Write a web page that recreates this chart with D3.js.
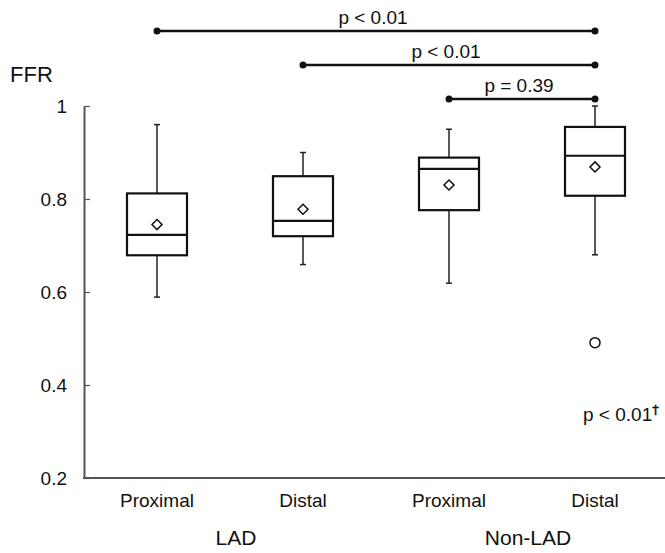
<!DOCTYPE html>
<html>
<head>
<meta charset="utf-8">
<script src="https://cdn.jsdelivr.net/npm/d3@7"></script>
<style>
  body { margin: 0; background: #fff; }
  text, tspan { font-family: "Liberation Sans", Arial, sans-serif; fill: #111; }
</style>
</head>
<body>
<div id="chart"></div>
<script>
// box plot data
var categories = ["LAD Proximal", "LAD Distal", "Non-LAD Proximal", "Non-LAD Distal"];
var catLabels = ["Proximal", "Distal", "Proximal", "Distal"];
var groups = ["LAD", "Non-LAD"];
var whiskerHigh = [0.96, 0.90, 0.95, 1.00];
var q3 = [0.812, 0.849, 0.889, 0.955];
var medians = [0.723, 0.753, 0.865, 0.893];
var q1 = [0.679, 0.720, 0.776, 0.807];
var whiskerLow = [0.589, 0.659, 0.619, 0.680];
var means = [0.745, 0.778, 0.830, 0.869];
var outliers = [{cat: 3, value: 0.491}];
var yTicks = [0.2, 0.4, 0.6, 0.8, 1];
// significance brackets: from category index to category index
var compFrom = [0, 1, 2];
var compTo = [3, 3, 3];
var compLabels = ["p < 0.01", "p < 0.01", "p = 0.39"];

var w = 665, h = 553;
var svg = d3.select("#chart").append("svg")
    .attr("width", w)
    .attr("height", h);

var x = d3.scaleBand()
    .domain(categories)
    .range([84, 668])
    .padding(0);

var y = d3.scaleLinear()
    .domain([0.2, 1])
    .range([478, 106]);

var boxW = 60;
var cx = function(i) { return x(categories[i]) + x.bandwidth() / 2; };

// y axis
var yAxis = d3.axisLeft(y)
    .tickValues(yTicks)
    .tickSizeInner(-6)
    .tickSizeOuter(0)
    .tickPadding(17)
    .tickFormat(function(d) { return d === 1 ? "1" : d3.format(".1f")(d); });

var gy = svg.append("g")
    .attr("transform", "translate(84,0)")
    .call(yAxis);
gy.select(".domain").attr("stroke", "#555").attr("stroke-width", 2);
gy.selectAll(".tick line").attr("stroke", "#555").attr("stroke-width", 1.2);
gy.selectAll(".tick text")
    .style("font-family", "Liberation Sans, Arial, sans-serif")
    .style("font-size", "19px")
    .attr("fill", "#111");

// x axis line
svg.append("line")
    .attr("x1", 83)
    .attr("x2", w)
    .attr("y1", y(0.2))
    .attr("y2", y(0.2))
    .attr("stroke", "#555")
    .attr("stroke-width", 2);

// category labels
svg.selectAll("text.cat")
    .data(catLabels)
    .enter()
    .append("text")
    .attr("class", "cat")
    .attr("text-anchor", "middle")
    .attr("x", function(d, i) { return cx(i); })
    .attr("y", 507)
    .style("font-size", "19px")
    .text(function(d) { return d; });

// group labels
svg.selectAll("text.grp")
    .data(groups)
    .enter()
    .append("text")
    .attr("class", "grp")
    .attr("text-anchor", "middle")
    .attr("x", function(d, i) { return (cx(2 * i) + cx(2 * i + 1)) / 2 + 6; })
    .attr("y", 545)
    .style("font-size", "21px")
    .text(function(d) { return d; });

// FFR label
svg.append("text")
    .attr("x", 10)
    .attr("y", 82)
    .style("font-size", "22px")
    .text("FFR");

// whiskers
var boxes = svg.selectAll("g.box")
    .data(categories)
    .enter()
    .append("g")
    .attr("class", "box");

boxes.append("line")
    .attr("x1", function(d, i) { return cx(i); })
    .attr("x2", function(d, i) { return cx(i); })
    .attr("y1", function(d, i) { return y(whiskerHigh[i]); })
    .attr("y2", function(d, i) { return y(whiskerLow[i]); })
    .attr("stroke", "#222")
    .attr("stroke-width", 1.5);

// whisker caps
[whiskerHigh, whiskerLow].forEach(function(arr) {
    boxes.append("line")
        .attr("x1", function(d, i) { return cx(i) - 3; })
        .attr("x2", function(d, i) { return cx(i) + 3; })
        .attr("y1", function(d, i) { return y(arr[i]); })
        .attr("y2", function(d, i) { return y(arr[i]); })
        .attr("stroke", "#222")
        .attr("stroke-width", 1.5);
});

boxes.append("rect")
    .attr("x", function(d, i) { return cx(i) - boxW / 2; })
    .attr("y", function(d, i) { return y(q3[i]); })
    .attr("width", boxW)
    .attr("height", function(d, i) { return y(q1[i]) - y(q3[i]); })
    .attr("fill", "white")
    .attr("stroke", "#111")
    .attr("stroke-width", 2.2);

boxes.append("line")
    .attr("x1", function(d, i) { return cx(i) - boxW / 2; })
    .attr("x2", function(d, i) { return cx(i) + boxW / 2; })
    .attr("y1", function(d, i) { return y(medians[i]); })
    .attr("y2", function(d, i) { return y(medians[i]); })
    .attr("stroke", "#111")
    .attr("stroke-width", 2.2);

// mean diamonds
boxes.append("path")
    .attr("d", d3.symbol().type(d3.symbolDiamond2).size(64))
    .attr("transform", function(d, i) { return "translate(" + cx(i) + "," + y(means[i]) + ")"; })
    .attr("fill", "white")
    .attr("stroke", "#111")
    .attr("stroke-width", 1.5);

// outliers
svg.selectAll("circle.outlier")
    .data(outliers)
    .enter()
    .append("circle")
    .attr("class", "outlier")
    .attr("cx", function(d) { return cx(d.cat); })
    .attr("cy", function(d) { return y(d.value); })
    .attr("r", 5)
    .attr("fill", "white")
    .attr("stroke", "#111")
    .attr("stroke-width", 1.5);

// outlier note
var note = svg.append("text")
    .attr("x", 583)
    .attr("y", 421)
    .style("font-size", "19px");
note.append("tspan").text("p < 0.01");
note.append("tspan")
    .attr("dy", -7)
    .style("font-family", "DejaVu Sans, sans-serif")
    .style("font-size", "13px")
    .style("fill", "#111")
    .style("stroke", "#111")
    .style("stroke-width", 0.4)
    .text("\u2020");

// significance brackets
var bracketY = [31, 65, 99];
var brackets = svg.selectAll("g.bracket")
    .data(compLabels)
    .enter()
    .append("g")
    .attr("class", "bracket");

brackets.append("line")
    .attr("x1", function(d, i) { return cx(compFrom[i]); })
    .attr("x2", function(d, i) { return cx(compTo[i]); })
    .attr("y1", function(d, i) { return bracketY[i]; })
    .attr("y2", function(d, i) { return bracketY[i]; })
    .attr("stroke", "#111")
    .attr("stroke-width", 2.5);

[compFrom, compTo].forEach(function(arr) {
    brackets.append("circle")
        .attr("cx", function(d, i) { return cx(arr[i]); })
        .attr("cy", function(d, i) { return bracketY[i]; })
        .attr("r", 3.5)
        .attr("fill", "#111");
});

brackets.append("text")
    .attr("text-anchor", "middle")
    .attr("x", function(d, i) { return (cx(compFrom[i]) + cx(compTo[i])) / 2 - 3; })
    .attr("y", function(d, i) { return bracketY[i] - 7; })
    .style("font-size", "19px")
    .text(function(d) { return d; });
</script>
</body>
</html>
